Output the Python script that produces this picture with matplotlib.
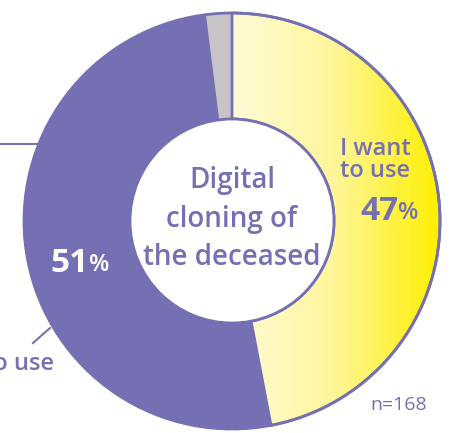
import numpy as np
import matplotlib.pyplot as plt
from matplotlib.patches import Wedge, Circle
from matplotlib.colors import LinearSegmentedColormap

# Data
labels = ["I want to use", "I don't want to use", "No answer"]
values = [47, 51, 2]
pct_labels = ["47", "51"]
n_total = 168
title_text = "Digital\ncloning of\nthe deceased"

PURPLE = "#7570B3"
GRAY = "#C6C4C7"
yellow_cmap = LinearSegmentedColormap.from_list("yel", ["#FFFBDA", "#FEF69A", "#FFEF00"])

W, H = 472, 433
plt.rcParams['font.family'] = ['Open Sans', 'DejaVu Sans']

fig = plt.figure(figsize=(W / 100, H / 100), dpi=100)
ax = fig.add_axes([0, 0, 1, 1])

cx, cy = 232, H - 221
R, r = 208, 102

# wedges: first slice clockwise from 12 o'clock, last slice counter-clockwise from 12
angles = np.cumsum([0] + values) * 3.6
want = Wedge((cx, cy), R, 90 - angles[1], 90, width=R - r, facecolor='none',
             edgecolor=PURPLE, lw=2, zorder=3)
dont = Wedge((cx, cy), R, 90 + values[2] * 3.6, 90 + values[2] * 3.6 + values[1] * 3.6,
             width=R - r, facecolor=PURPLE, edgecolor=PURPLE, lw=1, zorder=2)
na = Wedge((cx, cy), R, 90, 90 + values[2] * 3.6, width=R - r, facecolor=GRAY,
           edgecolor='none', zorder=2)
ax.add_patch(dont)
ax.add_patch(na)

# gradient fill for the yellow slice
grad = np.linspace(0, 1, 256).reshape(1, -1)
im = ax.imshow(grad, extent=[cx - 5, cx + R, cy - R, cy + R], origin='lower',
               aspect='auto', cmap=yellow_cmap, zorder=2)
clip = Wedge((cx, cy), R, 90 - angles[1], 90, width=R - r, transform=ax.transData)
im.set_clip_path(clip)
ax.add_patch(want)

ax.add_patch(Circle((cx, cy), R, fill=False, edgecolor=PURPLE, lw=2, zorder=4))
ax.add_patch(Circle((cx, cy), r, facecolor='white', edgecolor=PURPLE, lw=2, zorder=4))

# centre title
ax.text(cx, H - 219, title_text, ha='center', va='center', fontsize=20,
        fontweight='semibold', color=PURPLE, linespacing=1.45, zorder=5)

# right label
ax.text(375, H - 160, "I want\nto use", ha='center', va='center', fontsize=17,
        fontweight='semibold', color=PURPLE, linespacing=0.9, zorder=5)
t = ax.text(379, H - 211, pct_labels[0], ha='center', va='center', fontsize=24,
            fontweight='bold', color=PURPLE, zorder=5)
ax.annotate("%", xycoords=t, xy=(1, 0), xytext=(0, 2), textcoords='offset points',
            ha='left', va='bottom', fontsize=17, fontweight='semibold', color=PURPLE, zorder=5)

# left label
t2 = ax.text(70, H - 263, pct_labels[1], ha='center', va='center', fontsize=24,
             fontweight='bold', color='white', zorder=5)
ax.annotate("%", xycoords=t2, xy=(1, 0), xytext=(0, 2), textcoords='offset points',
            ha='left', va='bottom', fontsize=17, fontweight='semibold', color='white', zorder=5)

ax.text(54, H - 364, labels[1], ha='right', va='center', fontsize=17,
        fontweight='semibold', color=PURPLE, zorder=5)
ax.plot([0, 38], [H - 144, H - 144], color=PURPLE, lw=1.5, zorder=1)
ax.plot([33, 50], [H - 343, H - 328], color=PURPLE, lw=1.5, zorder=1)

ax.text(399, H - 405, f"n={n_total}", ha='center', va='center', fontsize=14,
        color=PURPLE, zorder=5)

ax.set_xlim(0, W)
ax.set_ylim(0, H)
ax.axis('off')
fig.savefig("out.png", dpi=100)
